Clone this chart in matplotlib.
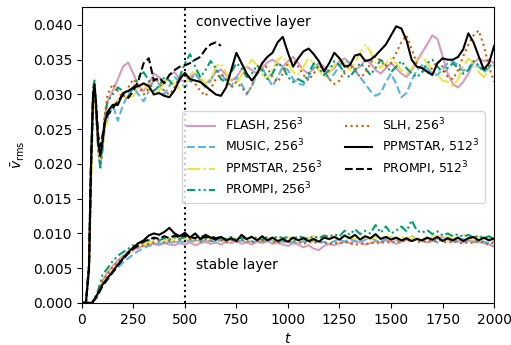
import numpy as np
import matplotlib
matplotlib.use("Agg")
import matplotlib.pyplot as plt

# time grids
t_conv = [0, 20, 35, 45, 55, 62, 70, 80, 90, 100, 112, 125] + list(range(150, 2001, 25))
t_stab = list(range(0, 2001, 25))

# convective layer v_rms
conv_flash = [0, 0, 0.005, 0.019, 0.029, 0.0305, 0.027, 0.022, 0.0195, 0.022, 0.027, 0.029,
              0.0305, 0.0322, 0.0340, 0.0346, 0.0330, 0.0312, 0.0305, 0.0315, 0.0330, 0.0325,
              0.0318, 0.0328, 0.0332, 0.0322, 0.0318, 0.0325, 0.0330, 0.0322, 0.0315, 0.0322,
              0.0332, 0.0336, 0.0328, 0.0320, 0.0325, 0.0336, 0.0340, 0.0335, 0.0330, 0.0338,
              0.0346, 0.0350, 0.0345, 0.0340, 0.0348, 0.0354, 0.0345, 0.0335, 0.0330, 0.0338,
              0.0345, 0.0340, 0.0332, 0.0338, 0.0348, 0.0352, 0.0345, 0.0336, 0.0340, 0.0350,
              0.0345, 0.0335, 0.0330, 0.0338, 0.0345, 0.0338, 0.0330, 0.0325, 0.0335, 0.0348,
              0.0360, 0.0372, 0.0385, 0.0380, 0.0355, 0.0330, 0.0315, 0.0310, 0.0318, 0.0330,
              0.0345, 0.0352, 0.0348, 0.0350, 0.0345]
conv_music = [0, 0, 0.005, 0.018, 0.028, 0.030, 0.027, 0.023, 0.021, 0.0225, 0.025, 0.0265,
              0.0285, 0.0262, 0.0285, 0.0300, 0.0310, 0.0300, 0.0290, 0.0305, 0.0322, 0.0315,
              0.0300, 0.0312, 0.0325, 0.0318, 0.0310, 0.0320, 0.0330, 0.0320, 0.0310, 0.0320,
              0.0335, 0.0330, 0.0320, 0.0312, 0.0325, 0.0315, 0.0300, 0.0312, 0.0330, 0.0338,
              0.0325, 0.0312, 0.0325, 0.0340, 0.0335, 0.0322, 0.0315, 0.0314, 0.0325, 0.0338,
              0.0345, 0.0335, 0.0322, 0.0330, 0.0342, 0.0350, 0.0345, 0.0335, 0.0325, 0.0315,
              0.0305, 0.0298, 0.0302, 0.0318, 0.0330, 0.0315, 0.0296, 0.0302, 0.0320, 0.0335,
              0.0342, 0.0338, 0.0330, 0.0328, 0.0336, 0.0345, 0.0348, 0.0342, 0.0334, 0.0338,
              0.0346, 0.0340, 0.0332, 0.0338, 0.0342]
conv_ppmstar = [0, 0, 0.004, 0.017, 0.028, 0.030, 0.027, 0.022, 0.0205, 0.022, 0.025, 0.027,
                0.0285, 0.0292, 0.0300, 0.0295, 0.0298, 0.0310, 0.0315, 0.0305, 0.0298, 0.0305,
                0.0318, 0.0322, 0.0315, 0.0308, 0.0315, 0.0328, 0.0335, 0.0325, 0.0315, 0.0322,
                0.0340, 0.0345, 0.0332, 0.0318, 0.0315, 0.0328, 0.0340, 0.0350, 0.0342, 0.0330,
                0.0322, 0.0335, 0.0350, 0.0355, 0.0345, 0.0332, 0.0328, 0.0340, 0.0352, 0.0345,
                0.0335, 0.0325, 0.0330, 0.0342, 0.0350, 0.0345, 0.0335, 0.0345, 0.0360, 0.0372,
                0.0362, 0.0345, 0.0338, 0.0345, 0.0352, 0.0345, 0.0335, 0.0330, 0.0338, 0.0350,
                0.0355, 0.0345, 0.0335, 0.0328, 0.0320, 0.0318, 0.0312, 0.0322, 0.0340, 0.0352,
                0.0345, 0.0332, 0.0325, 0.0335, 0.0340]
conv_prompi = [0, 0, 0.006, 0.021, 0.031, 0.032, 0.028, 0.022, 0.0195, 0.022, 0.027, 0.029,
               0.0300, 0.0310, 0.0305, 0.0298, 0.0310, 0.0325, 0.0332, 0.0320, 0.0305, 0.0312,
               0.0325, 0.0320, 0.0310, 0.0325, 0.0345, 0.0358, 0.0340, 0.0325, 0.0335, 0.0348,
               0.0338, 0.0322, 0.0318, 0.0332, 0.0345, 0.0338, 0.0325, 0.0330, 0.0342, 0.0335,
               0.0322, 0.0330, 0.0345, 0.0340, 0.0325, 0.0318, 0.0322, 0.0318, 0.0330, 0.0345,
               0.0338, 0.0328, 0.0335, 0.0348, 0.0342, 0.0330, 0.0325, 0.0335, 0.0345, 0.0338,
               0.0328, 0.0338, 0.0350, 0.0342, 0.0332, 0.0340, 0.0348, 0.0338, 0.0330, 0.0325,
               0.0332, 0.0345, 0.0350, 0.0340, 0.0332, 0.0338, 0.0345, 0.0338, 0.0330, 0.0335,
               0.0348, 0.0342, 0.0335, 0.0340, 0.0345]
conv_slh = [0, 0, 0.005, 0.019, 0.029, 0.0305, 0.027, 0.022, 0.021, 0.023, 0.027, 0.030,
            0.0315, 0.0305, 0.0295, 0.0310, 0.0322, 0.0312, 0.0300, 0.0308, 0.0322, 0.0318,
            0.0305, 0.0300, 0.0310, 0.0325, 0.0330, 0.0320, 0.0315, 0.0305, 0.0298, 0.0308,
            0.0322, 0.0330, 0.0322, 0.0310, 0.0318, 0.0310, 0.0302, 0.0312, 0.0332, 0.0345,
            0.0338, 0.0325, 0.0318, 0.0330, 0.0345, 0.0350, 0.0340, 0.0328, 0.0320, 0.0330,
            0.0342, 0.0335, 0.0322, 0.0315, 0.0320, 0.0335, 0.0342, 0.0335, 0.0325, 0.0330,
            0.0345, 0.0355, 0.0348, 0.0340, 0.0345, 0.0360, 0.0375, 0.0385, 0.0365, 0.0345,
            0.0335, 0.0330, 0.0338, 0.0348, 0.0340, 0.0325, 0.0322, 0.0335, 0.0355, 0.0372,
            0.0385, 0.0392, 0.0370, 0.0340, 0.0318]
conv_ppmstar512 = [0, 0, 0.005, 0.020, 0.030, 0.0315, 0.028, 0.023, 0.0212, 0.023, 0.026, 0.0275,
                   0.0285, 0.0285, 0.0302, 0.0305, 0.0310, 0.0312, 0.0316, 0.0312, 0.0300, 0.0302,
                   0.0298, 0.0296, 0.0306, 0.0322, 0.0331, 0.0322, 0.0320, 0.0318, 0.0312, 0.0306,
                   0.0300, 0.0298, 0.0310, 0.0335, 0.0360, 0.0345, 0.0330, 0.0320, 0.0330, 0.0345,
                   0.0354, 0.0360, 0.0375, 0.0383, 0.0360, 0.0340, 0.0352, 0.0362, 0.0366, 0.0358,
                   0.0348, 0.0333, 0.0345, 0.0360, 0.0352, 0.0340, 0.0342, 0.0356, 0.0358, 0.0348,
                   0.0350, 0.0356, 0.0364, 0.0372, 0.0385, 0.0398, 0.0395, 0.0378, 0.0350, 0.0340,
                   0.0338, 0.0333, 0.0328, 0.0345, 0.0352, 0.0350, 0.0350, 0.0354, 0.0365, 0.0388,
                   0.0375, 0.0355, 0.0336, 0.0345, 0.0370]
conv_prompi512 = [0, 0, 0.005, 0.020, 0.030, 0.031, 0.0285, 0.024, 0.0225, 0.024, 0.026, 0.027,
                  0.0280, 0.0290, 0.0300, 0.0295, 0.0305, 0.0320, 0.0345, 0.0352, 0.0320, 0.0324,
                  0.0316, 0.0328, 0.0335, 0.0340, 0.0342, 0.0345, 0.0350, 0.0354, 0.0365, 0.0372,
                  0.0375, 0.0370]

# stable layer v_rms
stab_flash = [0, 0, 0, 0.0010, 0.0032, 0.0044, 0.0053, 0.0061, 0.0068, 0.0072, 0.0076, 0.0080,
              0.0082, 0.0084, 0.0085, 0.0083, 0.0086, 0.0084, 0.0083, 0.0086, 0.0084, 0.0087,
              0.0083, 0.0086, 0.0088, 0.0085, 0.0087, 0.0084, 0.0088, 0.0086, 0.0089, 0.0085,
              0.0087, 0.0084, 0.0088, 0.0086, 0.0089, 0.0085, 0.0087, 0.0084, 0.0082, 0.0086,
              0.0084, 0.0080, 0.0083, 0.0078, 0.0076, 0.0082, 0.0085, 0.0083, 0.0086, 0.0088,
              0.0086, 0.0089, 0.0087, 0.0084, 0.0086, 0.0089, 0.0087, 0.0090, 0.0088, 0.0085,
              0.0088, 0.0091, 0.0089, 0.0092, 0.0090, 0.0087, 0.0089, 0.0092, 0.0095, 0.0091,
              0.0088, 0.0090, 0.0087, 0.0089, 0.0091, 0.0088, 0.0086, 0.0084, 0.0081]
stab_music = [0, 0, 0, 0.0008, 0.0026, 0.0036, 0.0044, 0.0051, 0.0058, 0.0064, 0.0070, 0.0075,
              0.0079, 0.0082, 0.0084, 0.0086, 0.0085, 0.0088, 0.0086, 0.0089, 0.0087, 0.0090,
              0.0088, 0.0091, 0.0088, 0.0090, 0.0087, 0.0091, 0.0089, 0.0092, 0.0088, 0.0090,
              0.0087, 0.0089, 0.0086, 0.0090, 0.0088, 0.0091, 0.0087, 0.0089, 0.0086, 0.0088,
              0.0085, 0.0089, 0.0087, 0.0090, 0.0086, 0.0088, 0.0085, 0.0089, 0.0091, 0.0088,
              0.0092, 0.0089, 0.0087, 0.0091, 0.0094, 0.0090, 0.0088, 0.0092, 0.0095, 0.0091,
              0.0089, 0.0093, 0.0096, 0.0092, 0.0089, 0.0093, 0.0090, 0.0087, 0.0091, 0.0094,
              0.0090, 0.0088, 0.0092, 0.0089, 0.0087, 0.0091, 0.0088, 0.0086, 0.0089]
stab_ppmstar = [0, 0, 0, 0.0010, 0.0030, 0.0041, 0.0050, 0.0058, 0.0066, 0.0072, 0.0077, 0.0081,
                0.0084, 0.0087, 0.0089, 0.0091, 0.0088, 0.0092, 0.0090, 0.0093, 0.0091, 0.0094,
                0.0090, 0.0093, 0.0095, 0.0092, 0.0096, 0.0093, 0.0091, 0.0095, 0.0092, 0.0094,
                0.0091, 0.0095, 0.0092, 0.0090, 0.0094, 0.0091, 0.0093, 0.0090, 0.0094, 0.0092,
                0.0095, 0.0091, 0.0093, 0.0096, 0.0092, 0.0094, 0.0091, 0.0095, 0.0097, 0.0093,
                0.0095, 0.0092, 0.0096, 0.0094, 0.0091, 0.0095, 0.0093, 0.0097, 0.0094, 0.0092,
                0.0096, 0.0093, 0.0095, 0.0092, 0.0094, 0.0091, 0.0095, 0.0097, 0.0093, 0.0096,
                0.0092, 0.0094, 0.0098, 0.0093, 0.0091, 0.0095, 0.0092, 0.0094, 0.0091]
stab_prompi = [0, 0, 0, 0.0014, 0.0040, 0.0050, 0.0060, 0.0068, 0.0073, 0.0078, 0.0083, 0.0086,
               0.0088, 0.0090, 0.0092, 0.0090, 0.0093, 0.0091, 0.0094, 0.0092, 0.0095, 0.0092,
               0.0094, 0.0091, 0.0095, 0.0093, 0.0090, 0.0094, 0.0092, 0.0095, 0.0091, 0.0094,
               0.0092, 0.0096, 0.0093, 0.0091, 0.0095, 0.0092, 0.0096, 0.0093, 0.0095, 0.0092,
               0.0096, 0.0094, 0.0092, 0.0096, 0.0093, 0.0097, 0.0095, 0.0099, 0.0096, 0.0104,
               0.0098, 0.0106, 0.0099, 0.0104, 0.0100, 0.0112, 0.0101, 0.0110, 0.0100, 0.0104,
               0.0110, 0.0103, 0.0119, 0.0104, 0.0101, 0.0105, 0.0099, 0.0103, 0.0097, 0.0100,
               0.0096, 0.0099, 0.0095, 0.0098, 0.0094, 0.0097, 0.0093, 0.0096, 0.0092]
stab_slh = [0, 0, 0, 0.0011, 0.0031, 0.0042, 0.0051, 0.0059, 0.0066, 0.0072, 0.0077, 0.0080,
            0.0083, 0.0085, 0.0087, 0.0089, 0.0087, 0.0090, 0.0088, 0.0091, 0.0089, 0.0092,
            0.0090, 0.0088, 0.0091, 0.0089, 0.0092, 0.0090, 0.0087, 0.0090, 0.0088, 0.0091,
            0.0089, 0.0087, 0.0090, 0.0088, 0.0091, 0.0088, 0.0086, 0.0089, 0.0087, 0.0090,
            0.0088, 0.0085, 0.0088, 0.0086, 0.0089, 0.0087, 0.0084, 0.0087, 0.0085, 0.0088,
            0.0086, 0.0083, 0.0086, 0.0084, 0.0087, 0.0085, 0.0088, 0.0086, 0.0089, 0.0087,
            0.0090, 0.0088, 0.0092, 0.0089, 0.0087, 0.0090, 0.0088, 0.0091, 0.0089, 0.0086,
            0.0089, 0.0087, 0.0085, 0.0088, 0.0086, 0.0089, 0.0087, 0.0084, 0.0087]
stab_ppmstar512 = [0, 0, 0, 0.0012, 0.0026, 0.0036, 0.0045, 0.0055, 0.0064, 0.0073, 0.0080, 0.0086,
                   0.0090, 0.0097, 0.0100, 0.0098, 0.0102, 0.0108, 0.0100, 0.0096, 0.0101, 0.0094,
                   0.0100, 0.0092, 0.0098, 0.0094, 0.0091, 0.0095, 0.0090, 0.0093, 0.0089, 0.0098,
                   0.0092, 0.0095, 0.0090, 0.0096, 0.0090, 0.0094, 0.0089, 0.0092, 0.0088, 0.0094,
                   0.0090, 0.0093, 0.0089, 0.0092, 0.0088, 0.0094, 0.0092, 0.0095, 0.0091, 0.0097,
                   0.0093, 0.0098, 0.0091, 0.0096, 0.0093, 0.0099, 0.0092, 0.0095, 0.0091, 0.0094,
                   0.0090, 0.0093, 0.0089, 0.0092, 0.0090, 0.0094, 0.0091, 0.0095, 0.0089, 0.0093,
                   0.0090, 0.0094, 0.0089, 0.0093, 0.0095, 0.0090, 0.0094, 0.0090, 0.0093]
stab_prompi512 = [0, 0, 0, 0.0010, 0.0024, 0.0034, 0.0044, 0.0054, 0.0063, 0.0071, 0.0078, 0.0083,
                  0.0088, 0.0091, 0.0094, 0.0092, 0.0096, 0.0093, 0.0097, 0.0094, 0.0098, 0.0095,
                  0.0093, 0.0097, 0.0094, 0.0096, 0.0093, 0.0095]

labels = [r"FLASH, $256^3$", r"MUSIC, $256^3$", r"PPMSTAR, $256^3$", r"PROMPI, $256^3$",
          r"SLH, $256^3$", r"PPMSTAR, $512^3$", r"PROMPI, $512^3$"]
conv = [conv_flash, conv_music, conv_ppmstar, conv_prompi, conv_slh, conv_ppmstar512, conv_prompi512]
stab = [stab_flash, stab_music, stab_ppmstar, stab_prompi, stab_slh, stab_ppmstar512, stab_prompi512]
colors = ["#CC79A7", "#56B4E9", "#F0E442", "#009E73", "#D55E00", "black", "black"]
styles = ["-", "--", "-.", (0, (4, 1.5, 1, 1.5, 1, 1.5)), ":", "-", "--"]
alphas = [0.75, 1, 1, 1, 1, 1, 1]

fig = plt.figure(figsize=(5.11, 3.45), dpi=100)
ax = fig.add_axes([0.160, 0.122, 0.807, 0.858])

for c, s, col, ls, a, lab in zip(conv, stab, colors, styles, alphas, labels):
    ax.plot(t_conv[:len(c)], c, color=col, ls=ls, lw=1.5, alpha=a, label=lab)
    ax.plot(t_stab[:len(s)], s, color=col, ls=ls, lw=1.5, alpha=a)

ax.axvline(500, color="black", ls=":", lw=1.5)
ax.text(555, 0.0404, "convective layer", fontsize=10, va="center")
ax.text(555, 0.0055, "stable layer", fontsize=10, va="center")

ax.set_xlim(0, 2000)
ax.set_ylim(0, 0.0426)
ax.set_xticks(np.arange(0, 2001, 250))
ax.set_yticks(np.arange(0, 0.0401, 0.005))
ax.yaxis.set_major_formatter(matplotlib.ticker.FormatStrFormatter("%.3f"))
ax.set_xlabel(r"$t$")
ax.set_ylabel(r"$\bar{v}_\mathrm{rms}$")

ax.legend(ncol=2, loc="upper right", bbox_to_anchor=(0.992, 0.668), fontsize=9,
          labelspacing=0.3, handlelength=2.2, columnspacing=1.8)

fig.savefig("out.png", dpi=100)
